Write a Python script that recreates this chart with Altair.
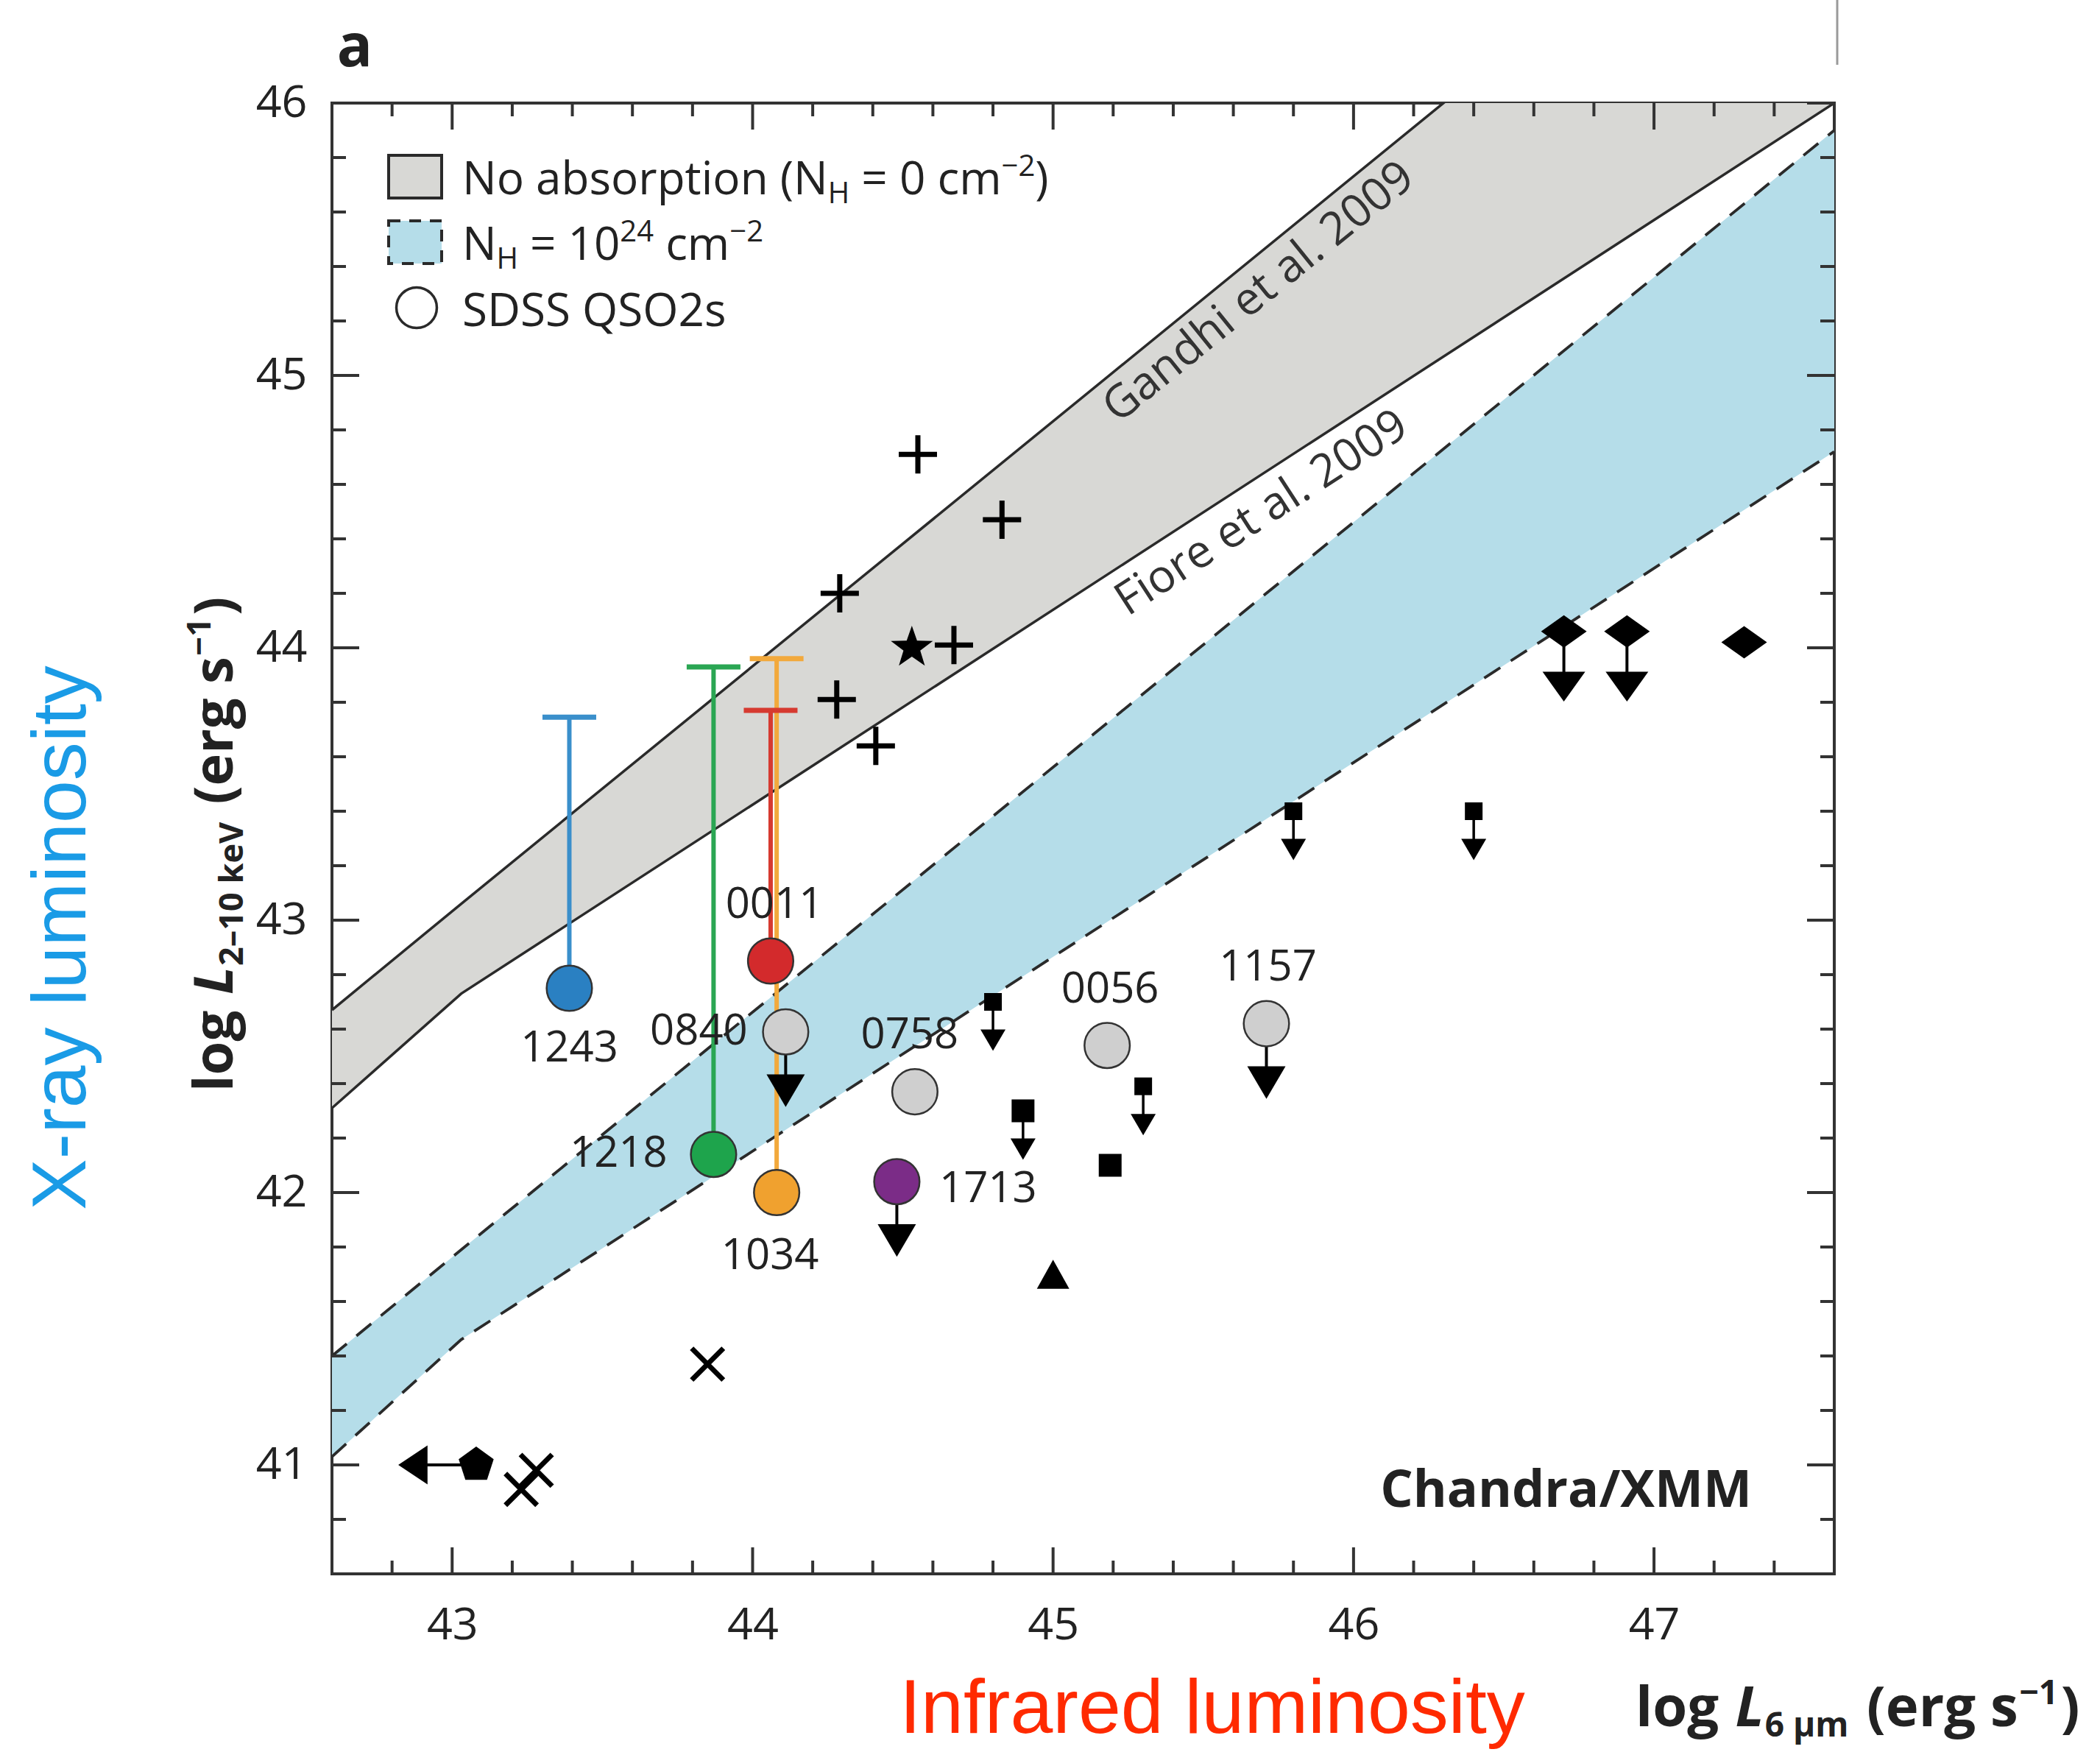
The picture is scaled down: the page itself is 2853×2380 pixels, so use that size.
import altair as alt
import pandas as pd

# ---------------------------------------------------------------
# Relations: log L(2-10 keV) vs log L(6 um), knots at the break
# ---------------------------------------------------------------
band_x = [42.6, 43.03, 47.6]
gandhi_y = [42.67, 43.06, 47.17]        # Gandhi et al. 2009, unabsorbed
fiore_y = [42.31, 42.73, 46.00]         # Fiore et al. 2009, unabsorbed
gandhi_nh24_y = [41.40, 41.79, 45.90]   # Gandhi relation, NH = 1e24 cm^-2
fiore_nh24_y = [41.03, 41.46, 44.72]    # Fiore relation, NH = 1e24 cm^-2

# SDSS QSO2s
qso_id = ["1243", "1218", "1034", "0011", "0840", "0758", "0056", "1157", "1713"]
qso_x = [43.39, 43.87, 44.08, 44.06, 44.11, 44.54, 45.18, 45.71, 44.48]
qso_y = [42.75, 42.14, 42.00, 42.85, 42.59, 42.37, 42.54, 42.62, 42.04]
qso_y_max = [43.745, 43.93, 43.96, 43.77, None, None, None, None, None]
qso_limit = [False, False, False, False, True, False, False, True, True]

# comparison samples
plus_x = [44.55, 44.83, 44.29, 44.67, 44.28, 44.41]
plus_y = [44.71, 44.47, 44.20, 44.01, 43.81, 43.64]
star_x = [44.53]
star_y = [44.00]
cross_x = [43.85, 43.28, 43.23]
cross_y = [41.37, 40.98, 40.91]
pent_x = [43.08]
pent_y = [41.00]
tri_x = [45.00]
tri_y = [41.70]
sq_small_x = [44.80, 45.30, 45.80, 46.40]
sq_small_y = [42.70, 42.39, 43.40, 43.40]
sq_big_x = [44.90, 45.19]
sq_big_y = [42.30, 42.10]
sq_big_limit = [True, False]
dia_x = [46.70, 46.91, 47.30]
dia_y = [44.06, 44.06, 44.02]
dia_limit = [True, True, False]

# axis ticks
x_major = [43, 44, 45, 46, 47]
y_major = [41, 42, 43, 44, 45, 46]
x_minor = [round(42.6 + 0.2 * i, 1) for i in range(1, 25)]
x_minor = [v for v in x_minor if abs(v - round(v)) > 1e-6]
y_minor = [round(40.6 + 0.2 * i, 1) for i in range(1, 27)]
y_minor = [v for v in y_minor if abs(v - round(v)) > 1e-6]

# ---------------------------------------------------------------
W, H = 2041, 1998
INK = "#2a2a2a"

xs = alt.Scale(domain=[42.6, 47.6], nice=False, zero=False)
ys = alt.Scale(domain=[40.6, 46.0], nice=False, zero=False)
x_axis = alt.Axis(values=x_major, format="d", ticks=False, tickSize=0, domain=False,
                  grid=False, labelPadding=40, title=None)
y_axis = alt.Axis(values=y_major, format="d", ticks=False, tickSize=0, domain=False,
                  grid=False, labelPadding=34, title=None)


def X(f="x"):
    return alt.X(f"{f}:Q", scale=xs, axis=x_axis)


def Y(f="y"):
    return alt.Y(f"{f}:Q", scale=ys, axis=y_axis)


band = pd.DataFrame({"x": band_x, "g": gandhi_y, "f": fiore_y,
                     "gn": gandhi_nh24_y, "fn": fiore_nh24_y})
qso = pd.DataFrame({"id": qso_id, "x": qso_x, "y": qso_y,
                    "y_max": qso_y_max, "lim": qso_limit})


def pts(xv, yv, lim=None):
    d = pd.DataFrame({"x": xv, "y": yv})
    d["lim"] = lim if lim is not None else [False] * len(xv)
    return d


one = pd.DataFrame({"k": [0]})

# marker shapes (unit box -1..1)
PLUS = "M-1,0L1,0M0,-1L0,1"
XMARK = "M-1,-1L1,1M-1,1L1,-1"
CAP = "M-1,0L1,0"
STAR = ("M0,-1L0.235,-0.324L0.951,-0.309L0.380,0.124L0.588,0.809L0,0.4"
        "L-0.588,0.809L-0.380,0.124L-0.951,-0.309L-0.235,-0.324Z")
PENT = "M0,-1L0.951,-0.309L0.588,0.809L-0.588,0.809L-0.951,-0.309Z"
TRI_UP = "M0,-0.9L1,0.9L-1,0.9Z"
TRI_DOWN = "M-1,-0.85L1,-0.85L0,0.85Z"
TRI_DOWN_FLAT = "M-1,-0.7L1,-0.7L0,0.7Z"
TRI_LEFT = "M0.75,-1L0.75,1L-0.75,0Z"
DIAMOND = "M-1,0L0,-0.71L1,0L0,0.71Z"

layers = []

# shaded relation bands
layers.append(alt.Chart(band).mark_area(color="#d8d8d5", clip=True)
              .encode(x=X(), y=Y("f"), y2="g"))
layers.append(alt.Chart(band).mark_area(color="#b5dde9", clip=True)
              .encode(x=X(), y=Y("fn"), y2="gn"))
for col in ["g", "f"]:
    layers.append(alt.Chart(band).mark_line(color=INK, strokeWidth=3.5, clip=True)
                  .encode(x=X(), y=Y(col)))
for col in ["gn", "fn"]:
    layers.append(alt.Chart(band).mark_line(color=INK, strokeWidth=3.8, clip=True,
                                            strokeDash=[26, 17])
                  .encode(x=X(), y=Y(col)))

# relation labels
layers.append(alt.Chart(one).mark_text(text="Gandhi et al. 2009", font="Open Sans",
                                       fontSize=62, angle=321, color="#333",
                                       align="center", baseline="middle")
              .encode(x=alt.value(1259), y=alt.value(257)))
layers.append(alt.Chart(one).mark_text(text="Fiore et al. 2009", font="Open Sans",
                                       fontSize=62, angle=327, color="#333",
                                       align="center", baseline="middle")
              .encode(x=alt.value(1263), y=alt.value(557)))

# QSO2 error bars (drawn before the circles)
bar_scale = alt.Scale(domain=["1243", "1218", "1034", "0011"],
                      range=["#3a8fcb", "#2aa653", "#f2a93c", "#d63a30"])
bars = qso.dropna(subset=["y_max"])
layers.append(alt.Chart(bars).mark_rule(strokeWidth=6)
              .encode(x=X(), y=Y(), y2="y_max",
                      color=alt.Color("id:N", scale=bar_scale, legend=None)))
layers.append(alt.Chart(bars).mark_point(shape=CAP, filled=False, size=73 ** 2,
                                         strokeWidth=7, opacity=1)
              .encode(x=X(), y=Y("y_max"),
                      color=alt.Color("id:N", scale=bar_scale, legend=None)))

# upper-limit arrows
qlim = qso[qso["lim"]]
layers.append(alt.Chart(qlim).mark_rule(color="black", strokeWidth=4, y2Offset=75)
              .encode(x=X(), y=Y(), y2="y"))
layers.append(alt.Chart(qlim).mark_point(shape=TRI_DOWN, filled=True, size=52 ** 2,
                                         color="black", opacity=1, yOffset=80)
              .encode(x=X(), y=Y()))

sq_small = pts(sq_small_x, sq_small_y, [True] * len(sq_small_x))
sq_big = pts(sq_big_x, sq_big_y, sq_big_limit)
sq_lim = pd.concat([sq_small, sq_big])
sq_lim = sq_lim[sq_lim["lim"]]
layers.append(alt.Chart(sq_lim).mark_rule(color="black", strokeWidth=3.5, y2Offset=50)
              .encode(x=X(), y=Y(), y2="y"))
layers.append(alt.Chart(sq_lim).mark_point(shape=TRI_DOWN, filled=True, size=34 ** 2,
                                           color="black", opacity=1, yOffset=52)
              .encode(x=X(), y=Y()))

dia = pts(dia_x, dia_y, dia_limit)
dlim = dia[dia["lim"]]
layers.append(alt.Chart(dlim).mark_rule(color="black", strokeWidth=4, y2Offset=72)
              .encode(x=X(), y=Y(), y2="y"))
layers.append(alt.Chart(dlim).mark_point(shape=TRI_DOWN_FLAT, filled=True, size=58 ** 2,
                                         color="black", opacity=1, yOffset=75)
              .encode(x=X(), y=Y()))

pent = pts(pent_x, pent_y)
layers.append(alt.Chart(pent).mark_rule(color="black", strokeWidth=4, x2Offset=-85)
              .encode(x=X(), x2="x", y=Y()))
layers.append(alt.Chart(pent).mark_point(shape=TRI_LEFT, filled=True, size=53 ** 2,
                                         color="black", opacity=1, xOffset=-86)
              .encode(x=X(), y=Y()))

# black comparison symbols
layers.append(alt.Chart(pts(plus_x, plus_y)).mark_point(shape=PLUS, filled=False,
                                                        size=52 ** 2, strokeWidth=7,
                                                        color="black", opacity=1)
              .encode(x=X(), y=Y()))
layers.append(alt.Chart(pts(star_x, star_y)).mark_point(shape=STAR, filled=True,
                                                        size=60 ** 2, color="black",
                                                        opacity=1)
              .encode(x=X(), y=Y()))
layers.append(alt.Chart(pts(cross_x, cross_y)).mark_point(shape=XMARK, filled=False,
                                                          size=43 ** 2, strokeWidth=7,
                                                          color="black", opacity=1)
              .encode(x=X(), y=Y()))
layers.append(alt.Chart(pent).mark_point(shape=PENT, filled=True, size=50 ** 2,
                                         color="black", opacity=1)
              .encode(x=X(), y=Y()))
layers.append(alt.Chart(pts(tri_x, tri_y)).mark_point(shape=TRI_UP, filled=True,
                                                      size=44 ** 2, color="black",
                                                      opacity=1)
              .encode(x=X(), y=Y()))
layers.append(alt.Chart(sq_small).mark_point(shape="square", filled=True, size=24 ** 2,
                                             color="black", opacity=1)
              .encode(x=X(), y=Y()))
layers.append(alt.Chart(sq_big).mark_point(shape="square", filled=True, size=31 ** 2,
                                           color="black", opacity=1)
              .encode(x=X(), y=Y()))
layers.append(alt.Chart(dia).mark_point(shape=DIAMOND, filled=True, size=62 ** 2,
                                        color="black", opacity=1)
              .encode(x=X(), y=Y()))

# QSO2 circles
fill_scale = alt.Scale(domain=qso_id,
                       range=["#2a80c2", "#1ea44c", "#f0a12f", "#d32a2c", "#cfcfcf",
                              "#cfcfcf", "#cfcfcf", "#cfcfcf", "#7b2c87"])
layers.append(alt.Chart(qso).mark_point(shape="circle", filled=True, size=3800,
                                        stroke="#333", strokeWidth=2.5, opacity=1)
              .encode(x=X(), y=Y(), fill=alt.Fill("id:N", scale=fill_scale, legend=None)))

# QSO2 name labels
label_offset = {"1243": (0, 82), "1218": (-129, 0), "1034": (-9, 87),
                "0011": (5, -76), "0840": (-118, 0), "0758": (-7, -76),
                "0056": (4, -75), "1157": (2, -76), "1713": (124, 11)}
for name, (ddx, ddy) in label_offset.items():
    layers.append(alt.Chart(qso).transform_filter(alt.datum.id == name)
                  .mark_text(font="Open Sans", fontSize=58, color="#222", dx=ddx, dy=ddy,
                             align="center", baseline="middle")
                  .encode(x=X(), y=Y(), text="id:N"))

# frame ticks (pointing inward)
TK = "#333"
xmaj = pd.DataFrame({"x": x_major})
xmin = pd.DataFrame({"x": x_minor})
ymaj = pd.DataFrame({"y": y_major})
ymin = pd.DataFrame({"y": y_minor})
for d, ln in [(xmaj, 36), (xmin, 18)]:
    layers.append(alt.Chart(d).mark_rule(color=TK, strokeWidth=4)
                  .encode(x=X(), y=alt.value(H), y2=alt.value(H - ln)))
    layers.append(alt.Chart(d).mark_rule(color=TK, strokeWidth=4)
                  .encode(x=X(), y=alt.value(0), y2=alt.value(ln)))
for d, ln in [(ymaj, 37), (ymin, 19)]:
    layers.append(alt.Chart(d).mark_rule(color=TK, strokeWidth=4)
                  .encode(y=Y(), x=alt.value(0), x2=alt.value(ln)))
    layers.append(alt.Chart(d).mark_rule(color=TK, strokeWidth=4)
                  .encode(y=Y(), x=alt.value(W), x2=alt.value(W - ln)))

# ---------------------------------------------------------------
# rich text helper (sub/superscripts as separate runs); spaces at the
# ends of a run are turned into extra advance so they are not lost
_EM = {" ": 0.26, "(": 0.296, ")": 0.296, "=": 0.571, "\u2212": 0.571,
       "\u2013": 0.5, ".": 0.267, "/": 0.371, "a": 0.556, "b": 0.613, "c": 0.476,
       "d": 0.613, "e": 0.561, "g": 0.548, "h": 0.614, "i": 0.253, "k": 0.525,
       "l": 0.253, "m": 0.930, "n": 0.614, "o": 0.604, "p": 0.613, "r": 0.408,
       "s": 0.477, "t": 0.353, "u": 0.614, "y": 0.501, "V": 0.569, "H": 0.738,
       "L": 0.496, "N": 0.748, "S": 0.537, "D": 0.706, "Q": 0.742, "O": 0.742,
       "\u00b5": 0.62}


def text_w(s, size, bold):
    return sum(_EM.get(c, 0.571) for c in s) * size * (1.07 if bold else 1.0)


def rich(runs, x0, y0, angle=0, bold=False, color="#222", font="Open Sans"):
    out = []
    pos = 0.0
    for txt, size, shift, italic in runs:
        core = txt.strip(" ")
        lead = len(txt) - len(txt.lstrip(" "))
        trail = len(txt) - len(txt.rstrip(" "))
        pos += text_w(" " * lead, size, bold)
        kw = dict(text=core, font=font, fontSize=size, align="left", baseline="alphabetic",
                  dx=pos, dy=shift, color=color, fontWeight="bold" if bold else "normal")
        if angle:
            kw["angle"] = angle
        if italic:
            kw["fontStyle"] = "italic"
        out.append(alt.Chart(one).mark_text(**kw)
                   .encode(x=alt.value(x0), y=alt.value(y0)))
        pos += text_w(core, size, bold) + text_w(" " * trail, size, bold)
    return out


# legend
layers.append(alt.Chart(one).mark_rect(fill="#d8d8d5", stroke=INK, strokeWidth=4)
              .encode(x=alt.value(77), x2=alt.value(149), y=alt.value(71), y2=alt.value(129)))
layers.append(alt.Chart(one).mark_rect(fill="#b5dde9", stroke=INK, strokeWidth=4,
                                       strokeDash=[16, 12])
              .encode(x=alt.value(77), x2=alt.value(149), y=alt.value(160), y2=alt.value(218)))
layers.append(alt.Chart(one).mark_point(shape="circle", filled=False, size=3019,
                                        stroke=INK, strokeWidth=3.5, opacity=1)
              .encode(x=alt.value(115), y=alt.value(278)))
layers += rich([("No absorption (N", 62, 0, False), ("H", 40, 12, False),
                (" = 0 cm", 62, 0, False), ("\u22122", 40, -25, False), (")", 62, 0, False)],
               177, 124)
layers += rich([("N", 62, 0, False), ("H", 40, 12, False), (" = 10", 62, 0, False),
                ("24", 40, -25, False), (" cm", 62, 0, False), ("\u22122", 40, -25, False)],
               177, 213)
layers += rich([("SDSS QSO2s", 62, 0, False)], 177, 303)

# axis titles
layers += rich([("log ", 74, 0, False), ("L", 74, 0, True), ("2\u201310 keV", 45, 14, False),
                (" (erg s", 74, 0, False), ("\u22121", 45, -30, False), (")", 74, 0, False)],
               -135, 1343, angle=270, bold=True)
layers += rich([("log ", 76, 0, False), ("L", 76, 0, True), ("6 \u00b5m", 46, 14, False),
                (" (erg s", 76, 0, False), ("\u22121", 46, -30, False), (")", 76, 0, False)],
               1771, 2205, bold=True)

# other annotations
layers.append(alt.Chart(one).mark_text(text="Chandra/XMM", font="Open Sans", fontSize=70,
                                       fontWeight="bold", color="#222", align="right",
                                       baseline="alphabetic")
              .encode(x=alt.value(1929), y=alt.value(1907)))
layers.append(alt.Chart(one).mark_text(text="a", font="Open Sans", fontSize=80,
                                       fontWeight="bold", color="#222", align="center",
                                       baseline="alphabetic")
              .encode(x=alt.value(31), y=alt.value(-50)))
layers.append(alt.Chart(one).mark_text(text="X-ray luminosity", font="Liberation Sans",
                                       fontSize=104, color="#1a9be6", angle=270,
                                       align="center", baseline="alphabetic")
              .encode(x=alt.value(-335), y=alt.value(1134)))
layers.append(alt.Chart(one).mark_text(text="Infrared luminosity", font="Liberation Sans",
                                       fontSize=104, color="#ff2a00", align="center",
                                       baseline="alphabetic")
              .encode(x=alt.value(1196), y=alt.value(2214)))
layers.append(alt.Chart(one).mark_rule(color="#9a9a9a", strokeWidth=3)
              .encode(x=alt.value(2045), y=alt.value(-140), y2=alt.value(-52)))

chart = (
    alt.layer(*layers)
    .properties(width=W, height=H,
                autosize=alt.AutoSizeParams(type="none"),
                padding={"left": 451, "top": 140, "right": 361, "bottom": 242})
    .configure(background="white")
    .configure_view(stroke="#333", strokeWidth=4)
    .configure_axis(labelFont="Open Sans", labelFontSize=61, labelColor="#222")
)

chart.save("out.html", embed_options={"renderer": "svg", "actions": False})
